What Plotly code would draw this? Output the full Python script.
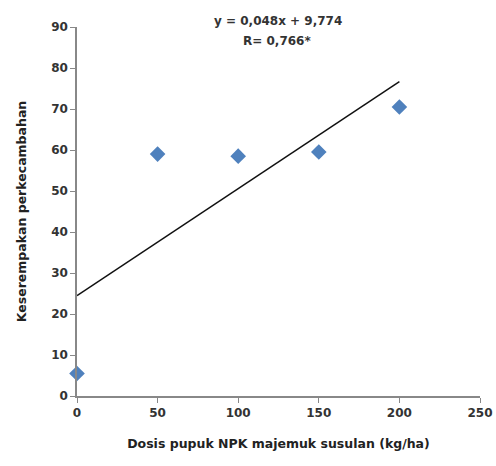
import numpy as np
import plotly.graph_objects as go

dose = [0, 50, 100, 150, 200]
uniformity = [5.5, 59, 58.5, 59.5, 70.5]
x_ticks = [0, 50, 100, 150, 200, 250]
y_ticks = [0, 10, 20, 30, 40, 50, 60, 70, 80, 90]

slope, intercept = np.polyfit(dose, uniformity, 1)
fit_x = [min(dose), max(dose)]
fit_y = [slope * v + intercept for v in fit_x]

fig = go.Figure()
fig.add_trace(go.Scatter(x=fit_x, y=fit_y, mode="lines",
                         line=dict(color="#111", width=1.5), showlegend=False))
fig.add_trace(go.Scatter(x=dose, y=uniformity, mode="markers",
                         marker=dict(symbol="diamond", size=12, color="#4f81bd"),
                         showlegend=False, cliponaxis=False))

FAM = "DejaVu Sans"
font = dict(family=FAM, size=10, color="#222")
tfont = dict(family=FAM, size=12.5, color="#222", weight="bold")
afont = dict(family=FAM, size=12, color="#333", weight="bold")
kfont = dict(family=FAM, size=12, color="#333", weight="bold")

L, R, T, B, W, H = 77, 16, 27, 70, 496, 466
pw, ph = W - L - R, H - T - B

def px2paper(px, py):
    return (px - L) / pw, 1 - (py - T) / ph

for txt, (px, py) in [("y = 0,048x + 9,774", (278, 21)), ("R= 0,766*", (277, 41))]:
    ax, ay = px2paper(px, py)
    fig.add_annotation(x=ax, y=ay, xref="paper", yref="paper", text=txt,
                       showarrow=False, font=afont, xanchor="center", yanchor="middle")

fig.update_layout(
    width=W, height=H,
    margin=dict(l=L, r=R, t=T, b=B, autoexpand=False),
    plot_bgcolor="white", paper_bgcolor="white",
    font=font,
    xaxis=dict(range=[0, 250], tickvals=x_ticks, showgrid=False, zeroline=False,
               showline=True, linecolor="#888", linewidth=1.5, ticks="outside",
               ticklen=5, tickcolor="#888", automargin=False, tickfont=kfont,
               ticklabeloverflow="allow",
               title=dict(text="Dosis pupuk NPK majemuk susulan (kg/ha)", standoff=20, font=tfont)),
    yaxis=dict(range=[0, 90], tickvals=y_ticks, showgrid=False, zeroline=False,
               showline=True, linecolor="#888", linewidth=1.5, ticks="outside",
               ticklen=5, tickcolor="#888", automargin=False, tickfont=kfont,
               title=dict(text="Keserempakan perkecambahan", standoff=22, font=tfont)),
)
fig.write_html("out.html", config={"displayModeBar": False},
               post_script="document.body.style.margin='0';document.body.style.overflow='hidden';")
